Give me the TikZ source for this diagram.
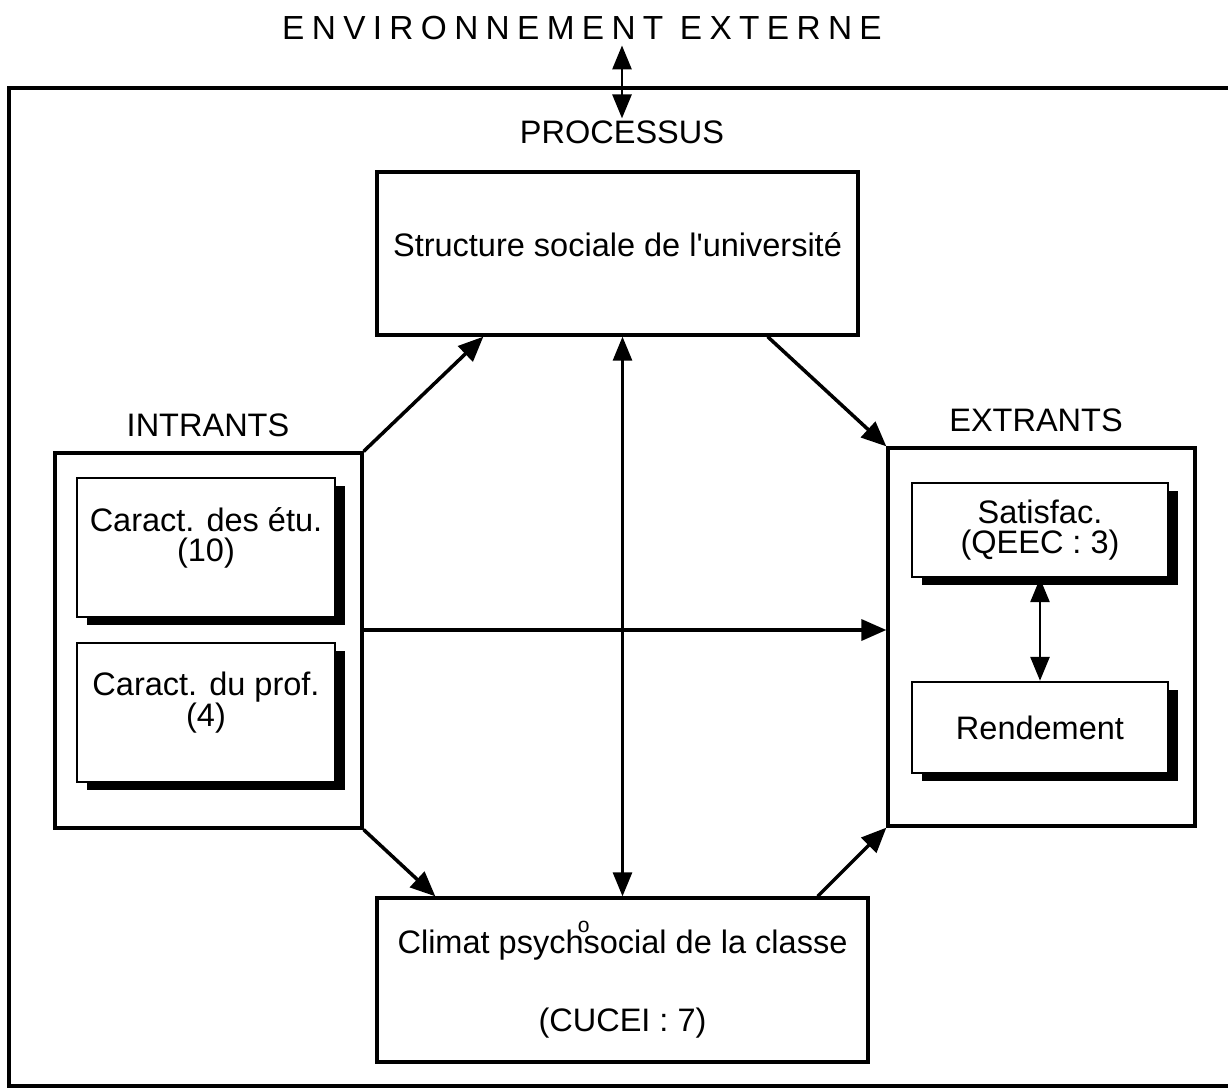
\documentclass[tikz,border=0pt]{standalone}
\usepackage{fontspec}
\setmainfont{Liberation Sans}
\usetikzlibrary{arrows.meta,positioning,shadows}

\begin{document}
\begin{tikzpicture}[x=0.02cm, y=-0.02cm,
  every node/.style={font=\fontsize{18.5}{17.5}\selectfont},
  bigbox/.style={draw,line width=1.9pt,align=center,inner sep=0pt},
  inbox/.style={draw,fill=white,line width=1.4pt,align=center,inner sep=0pt,
    minimum width=5.16cm,
    drop shadow={shadow xshift=0.2cm,shadow yshift=-0.16cm,fill=black,opacity=1}},
  lbl/.style={inner xsep=1pt,inner ysep=1pt},
  arr/.style={-{Triangle[length=0.5cm,width=0.42cm]},line width=2pt},
  dblarr/.style={{Triangle[length=0.48cm,width=0.38cm]}-{Triangle[length=0.48cm,width=0.38cm]},line width=1.6pt}]
\useasboundingbox (0,0) rectangle (1228,1089);
% environment frame
\draw[line width=2pt] (1228,88) -| (9,1086) -- (1228,1086);
\node[lbl,inner ysep=3pt] (env) at (582,28) {\fontsize{19}{19}\selectfont\addfontfeatures{LetterSpace=22}ENVIRONNEMENT EXTERNE};
\node[lbl] (proc) at (622,132) {PROCESSUS};
\node[lbl] (intl) at (208,425) {INTRANTS};
\node[lbl] (extl) at (1036,420) {EXTRANTS};
% boxes
\node[bigbox,minimum width=9.62cm,minimum height=3.26cm,
  label={[yshift=0.17cm]center:Structure sociale de l\textquotesingle université}] (ssu) at (617.5,253.5) {};
\node[bigbox,minimum width=6.14cm,minimum height=7.5cm] (intr) at (208.5,640.5) {};
\node[inbox,minimum height=2.78cm,
  label={[align=center,yshift=0.19cm]center:Caract. des étu.\\(10)}] (etu) at (206,547.5) {};
\node[inbox,minimum height=2.78cm,
  label={[align=center,yshift=0.2cm]center:Caract. du prof.\\(4)}] (prof) at (206,712.5) {};
\node[bigbox,minimum width=6.14cm,minimum height=7.56cm] (extr) at (1041.5,637) {};
\node[inbox,minimum width=5.12cm,minimum height=1.88cm] (satis) at (1040,530) {Satisfac.\\(QEEC : 3)};
\node[inbox,minimum width=5.12cm,minimum height=1.82cm] (rend) at (1040,727.5) {Rendement};
\node[bigbox,minimum width=9.82cm,minimum height=3.28cm] (clim) at (622.5,980) {Climat psych\makebox[0pt]{\raisebox{1.2ex}{\fontsize{12}{12}\selectfont o}}social de la classe\\[27pt](CUCEI : 7)};
% connectors
\coordinate (mid) at ([yshift=0.21cm]intr.east);
\draw[dblarr] (proc.north) -- (proc.north |- env.south);
\draw[arr] (intr.north east) -- ([xshift=2.16cm]ssu.south west);
\draw[arr] ([xshift=-1.84cm]ssu.south east) -- (extr.north west);
\draw[arr] (mid) -- (mid -| extr.west);
\draw[dblarr] (clim.north) -- (clim.north |- ssu.south);
\draw[arr] (intr.south east) -- ([xshift=1.2cm]clim.north west);
\draw[arr] ([xshift=-1.04cm]clim.north east) -- (extr.south west);
\draw[dblarr] (satis.south) -- (rend.north);
\end{tikzpicture}
\end{document}
